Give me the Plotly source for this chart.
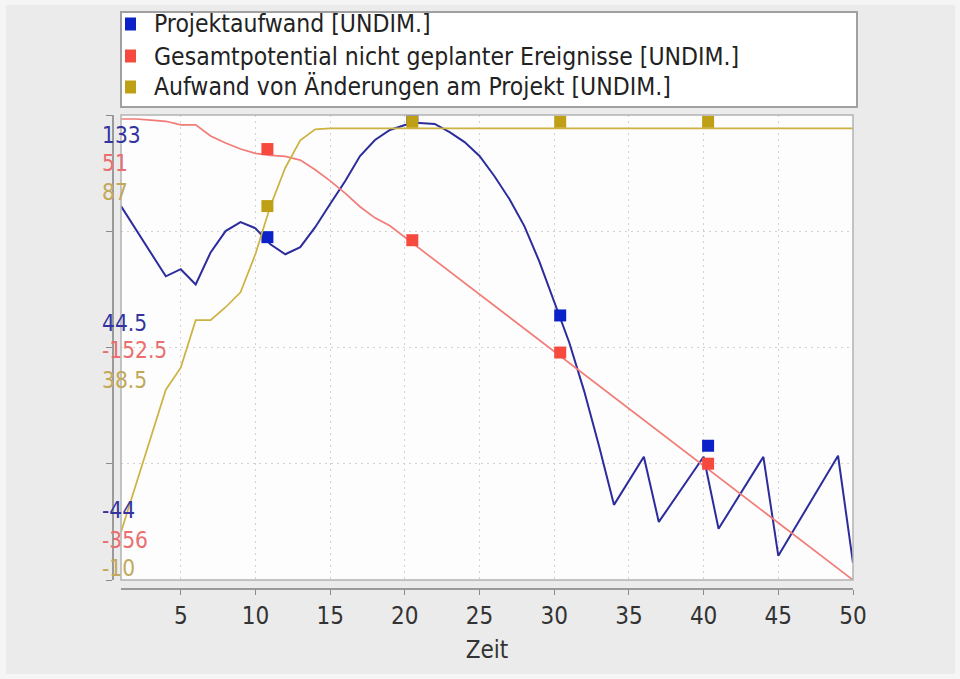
import plotly.graph_objects as go

W, H = 960, 679
FONT = "DejaVu Sans Condensed, DejaVu Sans, sans-serif"

# ---- data ---------------------------------------------------------------
zeit = list(range(1, 51))

projektaufwand = [98.3, 89.5, 80.5, 71.6, 74.3, 68.5, 80.7, 88.8, 92.2, 89.9,
                  83.8, 80.0, 82.7, 90.3, 99.1, 107.8, 117.4, 123.5, 127.3, 129.2,
                  130.0, 129.6, 126.5, 122.7, 117.4, 109.7, 101.0, 90.7, 77.3, 61.5,
                  46.5, 28.0, 7.0, -15.4, -6.2, 2.9, -21.9, -13.5, -5.1, 2.9,
                  -24.5, -15.4, -6.2, 2.9, -34.8, -25.3, -15.8, -6.2, 3.3, -37.5]

gesamtpotential = [47.5, 47.5, 46.6, 45.5, 42.3, 42.3, 32.6, 26.5, 21.2, 17.4,
                   15.7, 14.8, 11.5, 3.1, -6.6, -17.4, -29.3, -39.0, -46.0, -56.0,
                   -66.0, -76.0, -86.0, -96.0, -106.0, -116.0, -126.0, -136.0, -146.0, -156.0,
                   -166.0, -176.0, -186.0, -196.0, -206.0, -216.0, -226.0, -236.0, -246.0, -256.0,
                   -266.0, -276.0, -286.0, -296.0, -306.0, -316.0, -326.0, -336.0, -346.0, -356.0]

aenderungen = [0.0, 10.0, 20.0, 29.7, 34.3, 44.2, 44.2, 46.9, 50.0, 58.0,
               68.0, 76.0, 81.7, 84.0, 84.2, 84.2, 84.2, 84.2, 84.2, 84.2,
               84.2, 84.2, 84.2, 84.2, 84.2, 84.2, 84.2, 84.2, 84.2, 84.2,
               84.2, 84.2, 84.2, 84.2, 84.2, 84.2, 84.2, 84.2, 84.2, 84.2,
               84.2, 84.2, 84.2, 84.2, 84.2, 84.2, 84.2, 84.2, 84.2, 84.2]

# sample points highlighted with square markers
marker_zeit = [10.8, 20.5, 30.4, 40.3]
marker_projektaufwand = [86.5, 131.9, 56.7, 7.1]
marker_gesamtpotential = [21.2, -58.6, -156.9, -254.2]
marker_aenderungen = [68.0, 85.6, 85.6, 85.6]

series_names = ["Projektaufwand [UNDIM.]",
                "Gesamtpotential nicht geplanter Ereignisse [UNDIM.]",
                "Aufwand von Änderungen am Projekt [UNDIM.]"]

# each series has its own value scale, all sharing one set of grid lines
range_blue = [-44, 133]
range_red = [-356, 51]
range_gold = [-10, 87]

x_ticks = [5, 10, 15, 20, 25, 30, 35, 40, 45, 50]
x_title = "Zeit"

# ---- styling ----------------------------------------------------------------
line_colors = ["#2c2c9c", "#f27c78", "#ccb241"]
marker_colors = ["#0a22c8", "#f74a3e", "#bfa014"]
label_colors = ["#34349e", "#ea6e6e", "#c2a858"]


def px_x(p):
    return p / W


def px_y(p):
    return 1 - p / H


plot_left, plot_right, plot_top, plot_bottom = 121, 853, 115, 580

fig = go.Figure()

series = [
    (projektaufwand, marker_projektaufwand, "y", 2.0),
    (gesamtpotential, marker_gesamtpotential, "y2", 1.7),
    (aenderungen, marker_aenderungen, "y3", 1.7),
]

# lines
for i in (2, 1, 0):
    vals, _, yax, lw = series[i]
    fig.add_trace(go.Scatter(x=zeit, y=vals, yaxis=yax, mode="lines",
                             line=dict(color=line_colors[i], width=lw),
                             name=series_names[i], showlegend=False,
                             hoverinfo="skip"))
# markers
for i in (0, 1, 2):
    _, mvals, yax, _ = series[i]
    fig.add_trace(go.Scatter(x=marker_zeit, y=mvals, yaxis=yax, mode="markers",
                             marker=dict(symbol="square", size=12,
                                         color=marker_colors[i], line=dict(width=0)),
                             name=series_names[i], showlegend=False,
                             hoverinfo="skip"))

y_domain = [px_y(plot_bottom), px_y(plot_top)]


def quarter_ticks(r):
    lo, hi = r
    return [lo + k * (hi - lo) / 4 for k in range(5)]


# width follows the page; every horizontal position is a fraction of it
fig.update_layout(
    height=H,
    autosize=True,
    margin=dict(l=0, r=0, t=0, b=0),
    paper_bgcolor="#f5f5f5",
    plot_bgcolor="#fdfdfd",
    font=dict(family=FONT, size=22, color="#333333"),
    showlegend=False,
    xaxis=dict(
        domain=[px_x(plot_left), px_x(plot_right)],
        range=[1, 50], anchor="free", position=px_y(589),
        tickvals=x_ticks, ticks="outside", ticklen=5, tickcolor="#8a8a8a",
        showline=True, linecolor="#9a9a9a", linewidth=1.5,
        showgrid=True, gridcolor="#d2d2d2", griddash="2px,4px", gridwidth=1,
        zeroline=False, automargin=False,
        tickfont=dict(family=FONT, size=24, color="#333333"),
        title=dict(text=x_title, font=dict(family=FONT, size=24, color="#333333"),
                   standoff=12),
    ),
    yaxis=dict(
        domain=y_domain, range=range_blue, anchor="free", position=px_x(113),
        tickvals=quarter_ticks(range_blue), showticklabels=False,
        ticks="outside", ticklen=6, tickcolor="#8a8a8a",
        showline=True, linecolor="#9a9a9a", linewidth=1.5,
        showgrid=True, gridcolor="#d2d2d2", griddash="2px,4px", gridwidth=1,
        zeroline=False, automargin=False,
    ),
    yaxis2=dict(range=range_red, overlaying="y", visible=False),
    yaxis3=dict(range=range_gold, overlaying="y", visible=False),
)

shapes = [
    # grey panel behind everything
    dict(type="rect", xref="paper", yref="paper",
         x0=px_x(6), x1=px_x(955), y0=px_y(674), y1=px_y(5),
         fillcolor="#ebebeb", line=dict(width=0), layer="below"),
    # white plotting area
    dict(type="rect", xref="paper", yref="paper",
         x0=px_x(plot_left), x1=px_x(plot_right),
         y0=px_y(plot_bottom), y1=px_y(plot_top),
         fillcolor="#fdfdfd", line=dict(width=0), layer="below"),
    # plot frame
    dict(type="rect", xref="paper", yref="paper",
         x0=px_x(plot_left), x1=px_x(plot_right),
         y0=px_y(plot_bottom), y1=px_y(plot_top),
         line=dict(color="#b2b2b2", width=1.5), layer="above"),
    # legend box
    dict(type="rect", xref="paper", yref="paper",
         x0=px_x(121), x1=px_x(857), y0=px_y(107), y1=px_y(12),
         fillcolor="#ffffff", line=dict(color="#a0a0a0", width=2), layer="above"),
]

annotations = []
legend_rows = [24, 56, 87]
for i, name in enumerate(series_names):
    cy = legend_rows[i]
    shapes.append(dict(type="rect", xref="paper", yref="paper",
                       x0=px_x(125), x1=px_x(136), y0=px_y(cy + 6.5), y1=px_y(cy - 6.5),
                       fillcolor=marker_colors[i], line=dict(width=0), layer="above"))
    annotations.append(dict(xref="paper", yref="paper", x=px_x(152), y=px_y(cy),
                            xanchor="left", yanchor="middle", showarrow=False,
                            text=name, font=dict(family=FONT, size=24.5, color="#222222")))

# stacked value labels at the top, middle and bottom of the shared scale
axis_refs = ["y", "y2", "y3"]
ranges = [range_blue, range_red, range_gold]
shifts = {"top": [-20, -48, -77], "mid": [25, -2, -32], "bottom": [70, 40, 12]}
for i, (ref, r) in enumerate(zip(axis_refs, ranges)):
    lo, hi = r
    mid = (lo + hi) / 2
    for key, v in (("top", hi), ("mid", mid), ("bottom", lo)):
        annotations.append(dict(xref="paper", yref=ref, x=px_x(100), y=v,
                                xanchor="left", yanchor="middle", showarrow=False,
                                yshift=shifts[key][i], text=f"{v:g}",
                                font=dict(family=FONT, size=22.5, color=label_colors[i])))

fig.update_layout(shapes=shapes, annotations=annotations)

fig.write_html(
    "out.html",
    config={"responsive": True},
    post_script=(
        "document.body.style.margin='0';"
        "document.body.style.overflow='hidden';"
        "Plotly.Plots.resize(document.getElementById('{plot_id}'));"
    ),
)
